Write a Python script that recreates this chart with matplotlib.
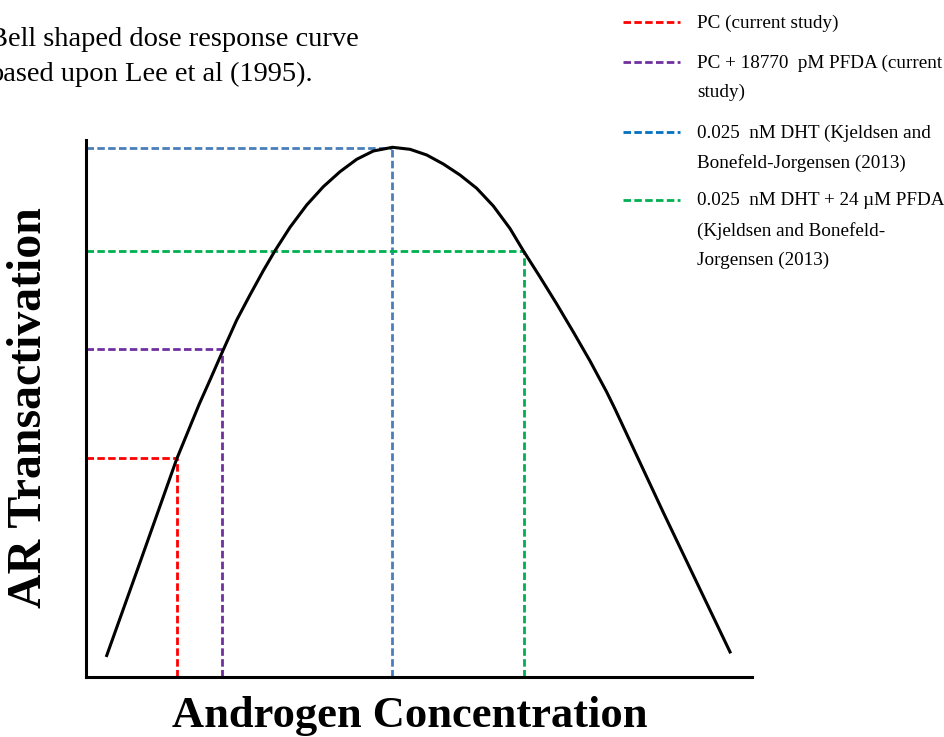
import matplotlib
matplotlib.use("Agg")
import matplotlib.pyplot as plt
from matplotlib.lines import Line2D

plt.rcParams['font.family'] = ['Liberation Serif', 'DejaVu Serif']
plt.rcParams['lines.scale_dashes'] = False

# bell shaped curve (arbitrary units, 0-100 on both axes)
curve_x = [3.11, 8.11, 13.62, 17.01, 18.62, 20.38, 22.63, 24.62, 26.62,
           28.38, 30.63, 33.14, 35.63, 38.14, 40.65, 43.14, 46.02,
           48.65, 51.16, 53.65, 56.16, 58.66, 61.16, 63.66, 65.66,
           68.17, 70.68, 73.17, 75.68, 78.18, 79.43, 86.68, 96.70]
curve_y = [4.00, 21.34, 40.60, 50.84, 55.31, 60.28, 66.48, 71.14, 75.66,
           79.39, 83.74, 87.90, 91.30, 94.10, 96.41, 97.95, 98.64,
           98.27, 97.21, 95.53, 93.48, 91.01, 87.71, 83.52, 79.39,
           74.49, 69.46, 64.25, 58.85, 53.07, 49.91, 30.65, 4.66]

# the four marked conditions
mark_x = [13.7, 20.4, 46.0, 65.7]
mark_y = [40.8, 61.0, 98.6, 79.4]
mark_colors = ['#FF0000', '#7030A0', '#4A7EBB', '#00B050']
legend_colors = ['#FF0000', '#7030A0', '#0070C0', '#00B050']
legend_labels = [
    'PC (current study)',
    'PC + 18770  pM PFDA (current\nstudy)',
    '0.025  nM DHT (Kjeldsen and\nBonefeld-Jorgensen (2013)',
    '0.025  nM DHT + 24 \u00b5M PFDA\n(Kjeldsen and Bonefeld-\nJorgensen (2013)',
]

title = 'Bell shaped dose response curve\nbased upon Lee et al (1995).'
xlabel = 'Androgen Concentration'
ylabel = 'AR Transactivation'

W, H = 944, 737


def px(x, y):
    # pixel position -> figure fraction
    return x / W, 1 - y / H


fig = plt.figure(figsize=(W / 100, H / 100), dpi=100)
ax = fig.add_axes([86 / W, 1 - 677 / H, 666 / W, 537 / H])
ax.set_xlim(0, 100)
ax.set_ylim(0, 100)

for s in ['top', 'right']:
    ax.spines[s].set_visible(False)
for s in ['left', 'bottom']:
    ax.spines[s].set_linewidth(2.2)
    ax.spines[s].set_color('black')
ax.set_xticks([])
ax.set_yticks([])

dash = (5.4, 2.4)
for x, y, c in zip(mark_x, mark_y, mark_colors):
    ax.plot([0, x], [y, y], color=c, lw=2, dashes=dash, clip_on=False)
    ax.plot([x, x], [0, y], color=c, lw=2, dashes=dash, clip_on=False)

ax.plot(curve_x, curve_y, color='black', lw=2.2, solid_joinstyle='round')

# title text, partly cut at the left edge like the original
fig.text(*px(-11, 27.5), title, fontsize=20.5, ha='left', va='top',
         linespacing=1.48)

# manual legend: dash aligned with first line of each label
dash_y = [22, 62, 132, 200]
for yy, c, lab in zip(dash_y, legend_colors, legend_labels):
    x0, y0 = px(623, yy)
    x1, _ = px(680, yy)
    fig.add_artist(Line2D([x0, x1], [y0, y0], color=c, lw=2, dashes=dash))
    fig.text(*px(697, yy - 7.6), lab, fontsize=13.8, ha='left', va='top',
             linespacing=1.9)

fig.text(*px(410, 727), xlabel, fontsize=32, fontweight='bold',
         ha='center', va='baseline')
fig.text(*px(29, 408), ylabel, fontsize=34.5, fontweight='bold',
         rotation=90, ha='center', va='center')

fig.savefig('out.png', dpi=100)
